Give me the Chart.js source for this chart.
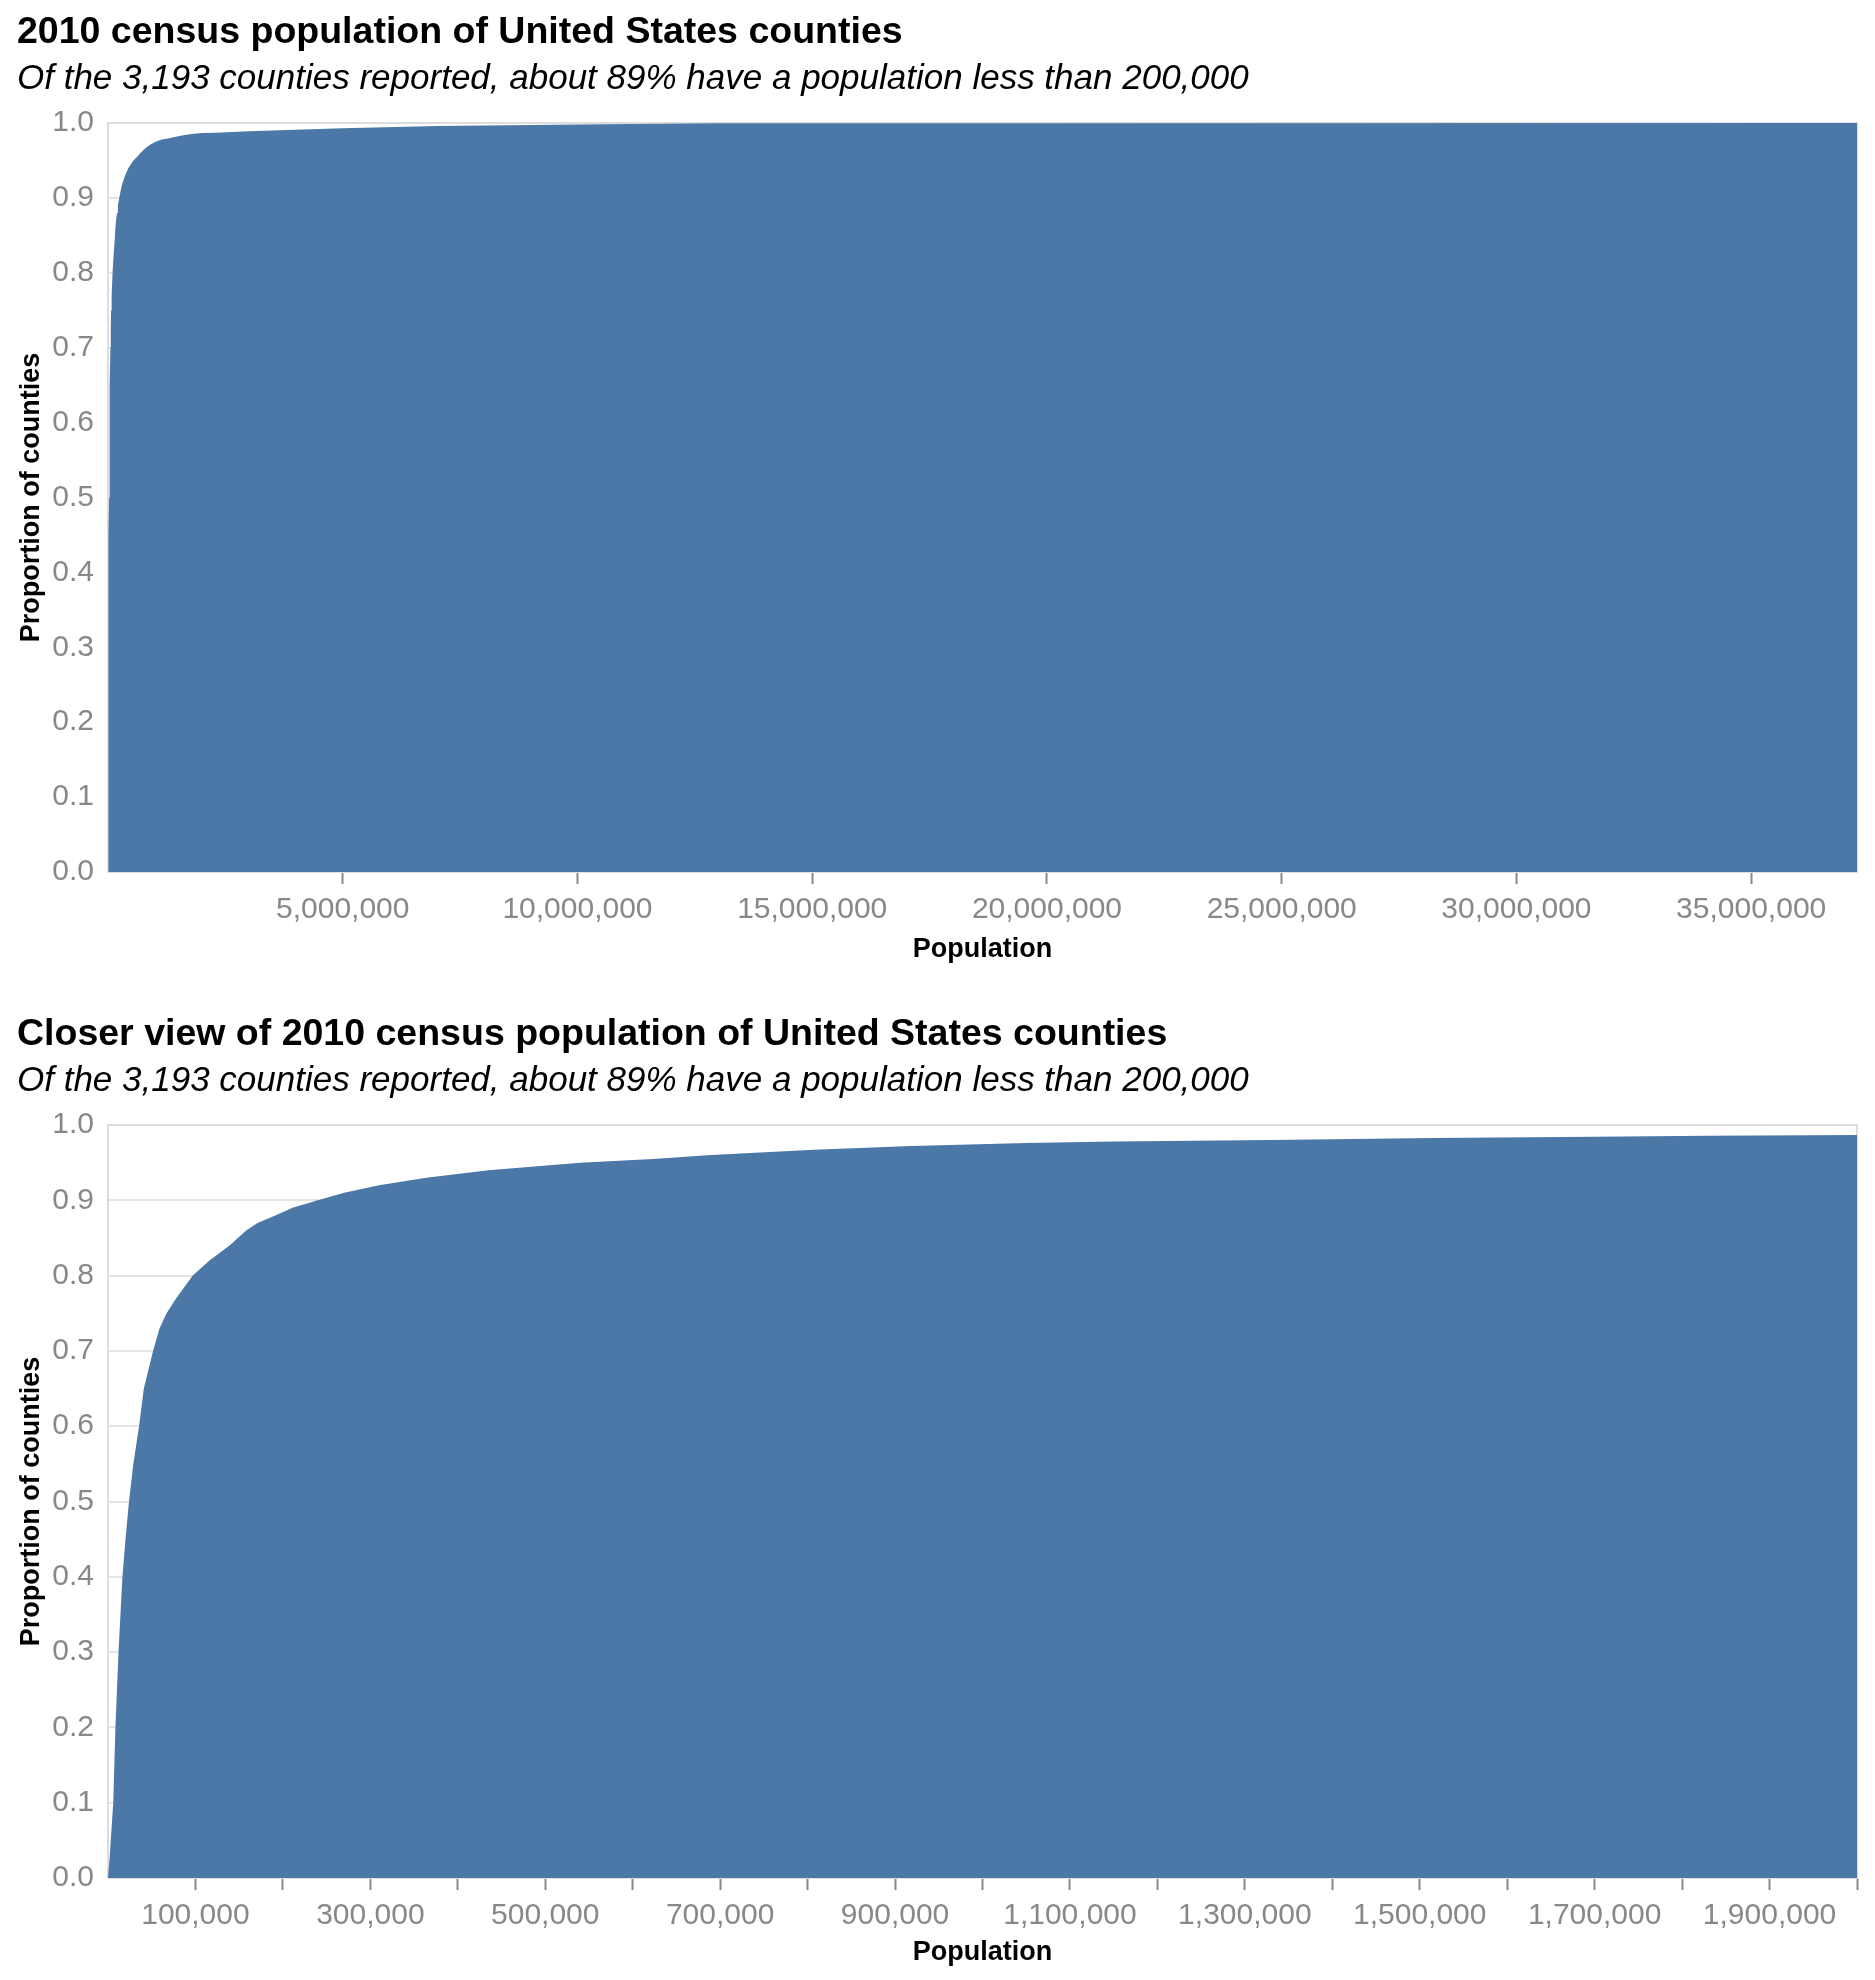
<!DOCTYPE html>
<html>
<head>
<meta charset="utf-8">
<title>2010 census population of United States counties</title>
<script src="https://cdn.jsdelivr.net/npm/chart.js@4.4.1/dist/chart.umd.min.js"></script>
<style>
    html, body { margin: 0; padding: 0; background: #fff; overflow: hidden; }
    #wrap { position: relative; width: 1875px; height: 1980px; }
    canvas { position: absolute; left: 0; }
    #fullChart { top: 0; }
    #closeChart { top: 1002px; }
</style>
</head>
<body>
<div id="wrap">
    <canvas id="fullChart" width="1875" height="1000"></canvas>
    <canvas id="closeChart" width="1875" height="978"></canvas>
</div>
<script>
// ECDF of county population
const populations = [0, 2000, 4000, 6000, 8500, 12000, 16500, 20000, 24000, 29000,
    35500, 41000, 51500, 59000, 67000, 78000, 97000, 116000, 139000, 158000,
    171000, 192000, 211000, 240000, 270000, 310000, 364000, 435000, 540000, 623000,
    690000, 807000, 919000, 1050000, 1150000, 1330000, 1516000, 1700000, 1830000, 2000000,
    2300000, 3000000, 4000000, 5000000, 7000000, 10000000, 13000000, 20000000, 37253956];
const proportions = [0, 0.03, 0.065, 0.1, 0.2, 0.3, 0.4, 0.45, 0.5, 0.55,
    0.6, 0.65, 0.7, 0.73, 0.75, 0.77, 0.8, 0.82, 0.84, 0.86,
    0.87, 0.88, 0.89, 0.9, 0.91, 0.92, 0.93, 0.94, 0.95, 0.955,
    0.96, 0.967, 0.972, 0.976, 0.978, 0.98, 0.9826, 0.9845, 0.9857, 0.9866,
    0.987, 0.989, 0.991, 0.993, 0.996, 0.998, 0.9995, 0.9998, 1.0];

const fullTicks = [5000000, 10000000, 15000000, 20000000, 25000000, 30000000, 35000000];
const closeTicks = [100000, 200000, 300000, 400000, 500000, 600000, 700000, 800000, 900000, 1000000,
    1100000, 1200000, 1300000, 1400000, 1500000, 1600000, 1700000, 1800000, 1900000, 2000000];
const yTicks = [0, 0.1, 0.2, 0.3, 0.4, 0.5, 0.6, 0.7, 0.8, 0.9, 1.0];

const titleFull = "2010 census population of United States counties";
const titleClose = "Closer view of 2010 census population of United States counties";
const subtitleText = "Of the 3,193 counties reported, about 89% have a population less than 200,000";

const FONT = "'Liberation Sans', Arial, Helvetica, sans-serif";
const BLUE = "#4c78a8";

const points = populations.map((p, i) => ({ x: p, y: proportions[i] }));

// light grey frame around the plot, under the area
const framePlugin = {
    id: "frame",
    beforeDatasetsDraw(chart) {
        const a = chart.chartArea;
        const ctx = chart.ctx;
        ctx.save();
        ctx.strokeStyle = "#dddddd";
        ctx.lineWidth = 2;
        ctx.strokeRect(a.left, a.top, a.right - a.left, a.bottom - a.top);
        ctx.restore();
    }
};

function makeChart(canvasId, title, xMax, xTicks, showLabel, xAxisHeight, xTitlePad) {
    const ctx = document.getElementById(canvasId).getContext("2d");
    return new Chart(ctx, {
        type: "line",
        data: {
            datasets: [{
                data: points,
                backgroundColor: BLUE,
                borderWidth: 0,
                pointRadius: 0,
                fill: "origin",
                tension: 0
            }]
        },
        plugins: [framePlugin],
        options: {
            responsive: false,
            animation: false,
            layout: { padding: { left: 17, right: 18, top: 0, bottom: 0 } },
            plugins: {
                legend: { display: false },
                tooltip: { enabled: false },
                title: {
                    display: true,
                    text: title,
                    align: "start",
                    color: "#000",
                    font: { family: FONT, size: 37.5, weight: "bold" },
                    padding: { top: 10, bottom: 3 }
                },
                subtitle: {
                    display: true,
                    text: subtitleText,
                    align: "start",
                    color: "#000",
                    font: { family: FONT, size: 35, style: "italic" },
                    padding: { top: 0, bottom: 23 }
                }
            },
            scales: {
                x: {
                    type: "linear",
                    min: 0,
                    max: xMax,
                    border: { display: false },
                    grid: {
                        drawOnChartArea: false,
                        drawTicks: true,
                        tickLength: 12,
                        tickColor: "#888",
                        tickWidth: 2
                    },
                    afterBuildTicks: (scale) => {
                        scale.ticks = xTicks.map(v => ({ value: v }));
                    },
                    afterFit: (scale) => { scale.height = xAxisHeight; },
                    ticks: {
                        autoSkip: false,
                        maxRotation: 0,
                        padding: 8,
                        color: "#888",
                        font: { family: FONT, size: 30 },
                        callback: (value) => showLabel(value) ? value.toLocaleString("en-US") : ""
                    },
                    title: {
                        display: true,
                        text: "Population",
                        color: "#000",
                        font: { family: FONT, size: 27, weight: "bold" },
                        padding: { top: 0, bottom: xTitlePad }
                    }
                },
                y: {
                    min: 0,
                    max: 1,
                    border: { display: false },
                    grid: {
                        color: "#e4e4e4",
                        lineWidth: 2,
                        drawTicks: false
                    },
                    afterBuildTicks: (scale) => {
                        scale.ticks = yTicks.map(v => ({ value: v }));
                    },
                    afterFit: (scale) => { scale.width = 91; },
                    ticks: {
                        padding: 14,
                        color: "#888",
                        font: { family: FONT, size: 30 },
                        callback: (value) => value.toFixed(1)
                    },
                    title: {
                        display: true,
                        text: "Proportion of counties",
                        color: "#000",
                        font: { family: FONT, size: 27, weight: "bold" },
                        padding: { top: -2, bottom: 0 }
                    }
                }
            }
        }
    });
}

document.addEventListener("DOMContentLoaded", () => {
    makeChart("fullChart", titleFull, 37253956, fullTicks, () => true, 128, 34);
    // only every other tick is labelled on the closer view
    makeChart("closeChart", titleClose, 2000000, closeTicks,
        (v) => Math.round(v / 100000) % 2 === 1, 102, 11);
});
</script>
</body>
</html>
